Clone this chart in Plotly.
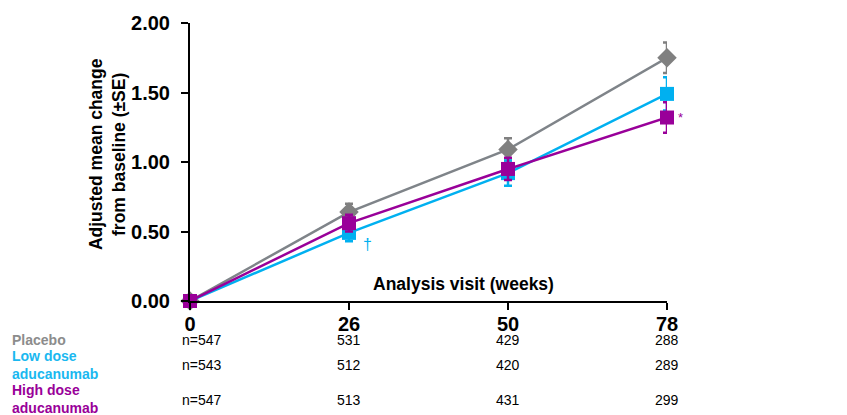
import plotly.graph_objects as go

weeks = ["0", "26", "50", "78"]
xpos = [0, 1, 2, 3]

placebo = [0.0, 0.64, 1.09, 1.75]
placebo_se = [0.0, 0.06, 0.08, 0.11]
low = [0.0, 0.49, 0.92, 1.49]
low_se = [0.0, 0.06, 0.09, 0.12]
high = [0.0, 0.56, 0.95, 1.32]
high_se = [0.0, 0.06, 0.08, 0.11]

n_placebo = ["n=547", "531", "429", "288"]
n_low = ["n=543", "512", "420", "289"]
n_high = ["n=547", "513", "431", "299"]

GRAY = "#7f8489"
GRAY_M = "#808080"
BLUE = "#00b0f0"
PURPLE = "#990099"
FONT = "Liberation Sans, Arial, sans-serif"

fig = go.Figure()

def add(y, se, color, mcolor, symbol, size, name):
    fig.add_trace(go.Scatter(
        x=xpos, y=y, mode="lines+markers", name=name,
        line=dict(color=color, width=2.5),
        marker=dict(symbol=symbol, size=size, color=mcolor),
        error_y=dict(type="data", array=se, visible=True, color=mcolor, thickness=2.5, width=4),
        cliponaxis=False,
    ))

add(placebo, placebo_se, GRAY, GRAY_M, "diamond", 15, "Placebo")
add(low, low_se, BLUE, BLUE, "square", 14, "Low dose aducanumab")
add(high, high_se, PURPLE, PURPLE, "square", 14, "High dose aducanumab")

fig.update_layout(
    width=847, height=415,
    margin=dict(l=190, r=180, t=19, b=114),
    paper_bgcolor="white", plot_bgcolor="white",
    showlegend=False,
    font=dict(family=FONT, color="black"),
    xaxis=dict(
        range=[0, 3], tickvals=xpos, ticktext=weeks,
        showgrid=False, zeroline=False,
        showline=True, linecolor="black", linewidth=2,
        ticks="outside", ticklen=7, tickwidth=2, tickcolor="black",
        tickfont=dict(family=FONT, size=20, color="black", weight="bold"),
        ticklabelstandoff=-3,
    ),
    yaxis=dict(
        range=[0, 2], tickvals=[0, 0.5, 1.0, 1.5, 2.0],
        ticktext=["0.00", "0.50", "1.00", "1.50", "2.00"],
        showgrid=False, zeroline=False,
        showline=True, linecolor="black", linewidth=2,
        ticks="outside", ticklen=7, tickwidth=2, tickcolor="black",
        tickfont=dict(family=FONT, size=20, color="black", weight="bold"),
        ticklabelstandoff=7,
    ),
)

def py(p):
    return (301 - p) / 282.0

def px(p):
    return (p - 190) / 477.0

ann = []
# y-axis title
ann.append(dict(text="<b>Adjusted mean change<br>from baseline (±SE)</b>", x=px(107), y=py(152),
                xref="paper", yref="paper", textangle=-90, showarrow=False,
                font=dict(family=FONT, size=17.5, color="black"), xanchor="center", yanchor="middle"))
# x-axis title
ann.append(dict(text="<b>Analysis visit (weeks)</b>", x=px(463), y=py(284),
                xref="paper", yref="paper", showarrow=False,
                font=dict(family=FONT, size=17.5, color="black"), xanchor="center", yanchor="middle"))
# significance markers
ann.append(dict(text="†", x=1, y=low[1] - 0.08, xref="x", yref="y", xshift=18, showarrow=False,
                font=dict(family=FONT, size=16, color=BLUE)))
ann.append(dict(text="*", x=3, y=high[3], xref="x", yref="y", xshift=13, showarrow=False,
                font=dict(family=FONT, size=13, color=PURPLE)))

# group labels
ann.append(dict(text="<b>Placebo</b>", x=px(10), y=py(341), xref="paper", yref="paper",
                showarrow=False, xanchor="left", yanchor="middle",
                font=dict(family=FONT, size=14, color="#8c8c8c")))
ann.append(dict(text="<b>Low dose<br>aducanumab</b>", x=px(10), y=py(366), xref="paper", yref="paper",
                showarrow=False, xanchor="left", yanchor="middle", align="left",
                font=dict(family=FONT, size=14, color="#1ab8f0")))
ann.append(dict(text="<b>High dose<br>aducanumab</b>", x=px(10), y=py(400), xref="paper", yref="paper",
                showarrow=False, xanchor="left", yanchor="middle", align="left",
                font=dict(family=FONT, size=14, color=PURPLE)))

for row, ypix in ((n_placebo, 341), (n_low, 366), (n_high, 401)):
    for i, t in enumerate(row):
        ann.append(dict(text=t, x=xpos[i], y=py(ypix), xref="x", yref="paper", showarrow=False,
                        xanchor="left" if i == 0 else "center", yanchor="middle",
                        xshift=-10 if i == 0 else 0,
                        font=dict(family=FONT, size=14, color="black")))

fig.update_layout(annotations=ann)

fig.write_html("out.html")
